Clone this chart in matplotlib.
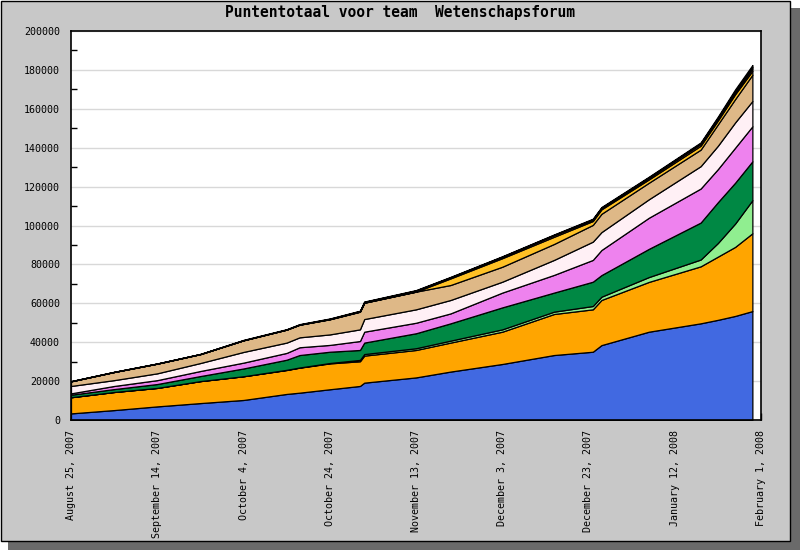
import matplotlib
matplotlib.use("Agg")
import matplotlib.pyplot as plt
from matplotlib.patches import Rectangle
import numpy as np
import pandas as pd

# ---- data (points per team member, stacked) ----
dates = ["2007-08-25", "2007-09-04", "2007-09-14", "2007-09-24", "2007-10-04",
         "2007-10-14", "2007-10-17", "2007-10-24", "2007-10-31", "2007-11-01",
         "2007-11-13", "2007-11-21", "2007-12-03", "2007-12-15", "2007-12-24",
         "2007-12-26", "2008-01-06", "2008-01-18", "2008-01-22", "2008-01-26",
         "2008-01-30"]

blue      = [3400, 5100, 7000, 8700, 10300, 13400, 14050, 15800, 17500, 19200, 21900, 24900, 28800, 33400, 35100, 38500, 45400, 49700, 51500, 53500, 56000]
orange    = [8300, 9300, 9500, 11300, 12200, 12300, 12850, 13300, 12700, 13900, 14100, 14900, 16600, 21100, 21800, 23200, 25600, 29300, 32500, 35500, 40000]
lightgrn  = [0, 0, 0, 0, 0, 100, 100, 200, 700, 800, 900, 1000, 1200, 1200, 1700, 1700, 2500, 3500, 7000, 12000, 17000]
darkgrn   = [1300, 1500, 2000, 2600, 4000, 5200, 6400, 5800, 5100, 5900, 7700, 8900, 11300, 9800, 12500, 11100, 14500, 19000, 21000, 21000, 20000]
violet    = [700, 1600, 2000, 2600, 3000, 3500, 4000, 3500, 4600, 5600, 5400, 5100, 7600, 9100, 11200, 12900, 16000, 17500, 17000, 18000, 18000]
lavender  = [3800, 3000, 3500, 4100, 5500, 5300, 5100, 5400, 6000, 6500, 6900, 6900, 5600, 7700, 9400, 9200, 9500, 11500, 12000, 13000, 13000]
burly     = [2400, 4200, 5000, 4600, 6000, 6700, 6500, 7800, 9100, 8400, 9100, 7700, 7700, 8200, 8600, 9400, 8500, 8500, 11000, 12000, 13500]
gold      = [0, 0, 0, 0, 0, 0, 0, 0, 0, 0, 0, 3400, 4400, 3700, 2000, 2300, 1700, 2000, 2000, 2500, 2000]
coral     = [0, 0, 0, 0, 0, 0, 100, 200, 300, 400, 500, 500, 700, 800, 700, 700, 800, 900, 900, 1000, 1200]
brown     = [0, 0, 0, 0, 0, 0, 0, 0, 0, 0, 100, 100, 100, 200, 200, 200, 300, 400, 500, 700, 800]
black     = [100, 100, 100, 100, 200, 200, 200, 200, 200, 200, 200, 200, 200, 200, 300, 300, 300, 400, 600, 800, 1000]

series = [blue, orange, lightgrn, darkgrn, violet, lavender, burly, gold, coral, brown, black]
colors = ["#4169E1", "#FFA500", "#90EE90", "#008844", "#EE82EE", "#FFF0F5",
          "#DEB887", "#FFC125", "#FF7F50", "#A52A2A", "#000000"]

tick_dates = ["2007-08-25", "2007-09-14", "2007-10-04", "2007-10-24", "2007-11-13",
              "2007-12-03", "2007-12-23", "2008-01-12", "2008-02-01"]
tick_labels = ["August 25, 2007", "September 14, 2007", "October 4, 2007",
               "October 24, 2007", "November 13, 2007", "December 3, 2007",
               "December 23, 2007", "January 12, 2008", "February 1, 2008"]
title = "Puntentotaal voor team  Wetenschapsforum"

# ---- figure ----
W, H = 800, 550
fig = plt.figure(figsize=(W / 100, H / 100), dpi=100)
fig.patch.set_facecolor("white")

# shadow and frame
fig.patches.append(Rectangle((8 / W, 0), 792 / W, 542 / H, transform=fig.transFigure,
                             facecolor="#6A6A6A", edgecolor="none", zorder=-2))
fig.patches.append(Rectangle((0.5 / W, 9 / H), 789.5 / W, 540.5 / H, transform=fig.transFigure,
                             facecolor="#C8C8C8", edgecolor="black", linewidth=1, zorder=-1))

ax = fig.add_axes([71 / W, 1 - 420 / H, 690 / W, 389 / H])
ax.set_zorder(2)
ax.set_facecolor("white")

x = pd.to_datetime(dates)
ax.stackplot(x, *series, colors=colors, edgecolor="black", linewidth=0.9, zorder=3)

ax.set_xlim(pd.Timestamp("2007-08-25"), pd.Timestamp("2008-02-01"))
ax.set_ylim(0, 200000)

mono = "DejaVu Sans Mono"
ax.set_yticks(np.arange(0, 200001, 20000))
ax.set_yticks(np.arange(10000, 200000, 20000), minor=True)
ax.set_yticklabels([str(v) for v in range(0, 200001, 20000)], fontsize=7.2, family=mono)
ax.tick_params(axis="y", which="major", length=0, pad=8)
ax.tick_params(axis="y", which="minor", length=4, direction="in", width=1, color="black")
ax.yaxis.grid(True, which="major", color="#D8D8D8", linewidth=1, zorder=0)
ax.set_axisbelow(True)

ax.set_xticks(pd.to_datetime(tick_dates))
ax.set_xticklabels(tick_labels, rotation=90, fontsize=7.2, family=mono, va="top", ha="center")
ax.tick_params(axis="x", which="major", length=5, direction="in", width=1, color="black", pad=7)
ax.tick_params(axis="x", which="minor", length=0)

for s in ax.spines.values():
    s.set_linewidth(1.2)
    s.set_color("black")
    s.set_zorder(5)

fig.text(400 / W, 1 - 13 / H, title, ha="center", va="center", fontsize=10.5,
         family=mono, fontweight="bold")

fig.savefig("out.png", dpi=100)
